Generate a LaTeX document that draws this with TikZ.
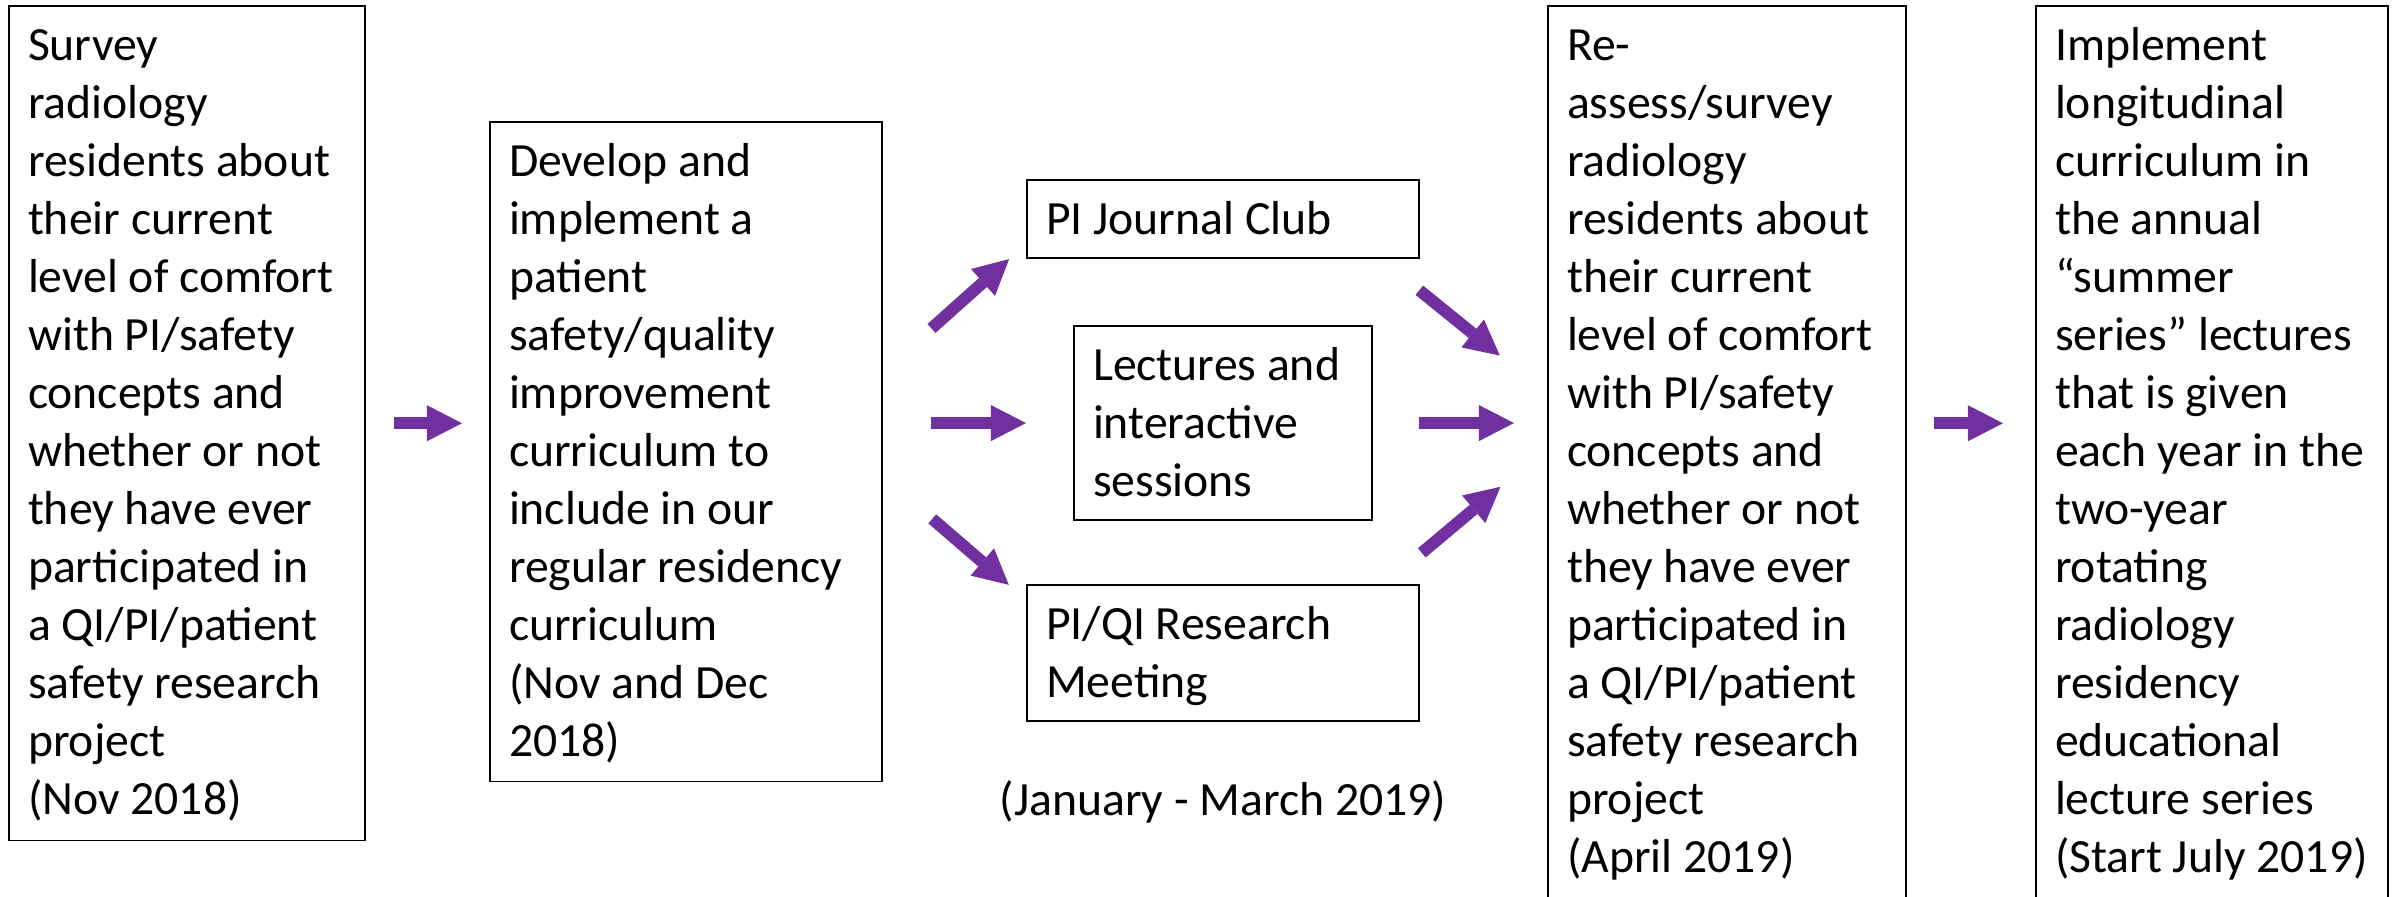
\documentclass[tikz,border=0pt]{standalone}
\usepackage{fontspec}
\setmainfont{Carlito}
\usetikzlibrary{arrows.meta}
\definecolor{arrowpurple}{RGB}{112,48,160}
\newcommand{\stagetext}[3]{\parbox[t][#2][t]{#1}{\raggedright\strut #3}}

\begin{document}
\begin{tikzpicture}[x=0.01cm,y=-0.01cm,
  every node/.style={font=\fontsize{13.56}{16.5}\selectfont},
  stage/.style={draw,line width=0.15mm,anchor=north west,inner xsep=1.9mm,inner ysep=1.4mm,outer sep=0pt},
  fat/.style={color=arrowpurple,line width=1.2mm,-{Triangle[width=3.6mm,length=3.5mm,line width=0pt]}}]
\useasboundingbox (0,0) rectangle (2394,896);
\clip (0,0) rectangle (2394,896);
% stages
\node[stage] (survey) at (9,6) {\stagetext{31.8mm}{80.6mm}{Survey\\radiology\\residents about\\their current\\level of comfort\\with PI/safety\\concepts and\\whether or not\\they have ever\\participated in\\a QI/PI/patient\\safety research\\project\\(Nov 2018)}};
\node[stage] (develop) at (490,122) {\stagetext{35.4mm}{63.1mm}{Develop and\\implement a\\patient\\safety/quality\\improvement\\curriculum to\\include in our\\regular residency\\curriculum\\(Nov and Dec\\2018)}};
\node[stage] (journal) at (1027,180) {\stagetext{35.4mm}{5.0mm}{PI Journal Club}};
\node[stage] (lectures) at (1074,326) {\stagetext{26.0mm}{16.6mm}{Lectures and\\interactive\\sessions}};
\node[stage] (piqi) at (1027,585) {\stagetext{35.4mm}{10.8mm}{PI/QI Research\\Meeting}};
\node[anchor=base] (period) at (1223,815) {(January - March 2019)};
\node[stage] (reassess) at (1548,6) {\stagetext{32.0mm}{87.2mm}{Re-\\assess/survey\\radiology\\residents about\\their current\\level of comfort\\with PI/safety\\concepts and\\whether or not\\they have ever\\participated in\\a QI/PI/patient\\safety research\\project\\(April 2019)}};
\node[stage] (implement) at (2036,6) {\stagetext{31.4mm}{87.2mm}{Implement\\longitudinal\\curriculum in\\the annual\\“summer\\series” lectures\\that is given\\each year in the\\two-year\\rotating\\radiology\\residency\\educational\\lecture series\\(Start July 2019)}};
% arrows
\draw[fat,shorten <=2.9mm,shorten >=2.8mm] (survey.east) -- (survey.east -| develop.west);
\draw[fat,shorten <=6.6mm,shorten >=2.4mm] (develop.22.55) -- (journal.187.7);
\draw[fat,shorten <=4.9mm,shorten >=4.8mm] (develop.east |- lectures.west) -- (lectures.west);
\draw[fat,shorten <=6.6mm,shorten >=2.4mm] (develop.-7.15) -- (piqi.165);
\draw[fat,shorten <=5.1mm,shorten >=6.2mm] (journal.-14.05) -- (reassess.161.93);
\draw[fat,shorten <=4.7mm,shorten >=3.4mm] (lectures.east) -- (lectures.east -| reassess.west);
\draw[fat,shorten <=5.0mm,shorten >=6.2mm] (piqi.23.1) -- (reassess.177.57);
\draw[fat,shorten <=2.8mm,shorten >=3.3mm] (reassess.east |- survey.east) -- (implement.west |- survey.east);
\end{tikzpicture}
\end{document}
